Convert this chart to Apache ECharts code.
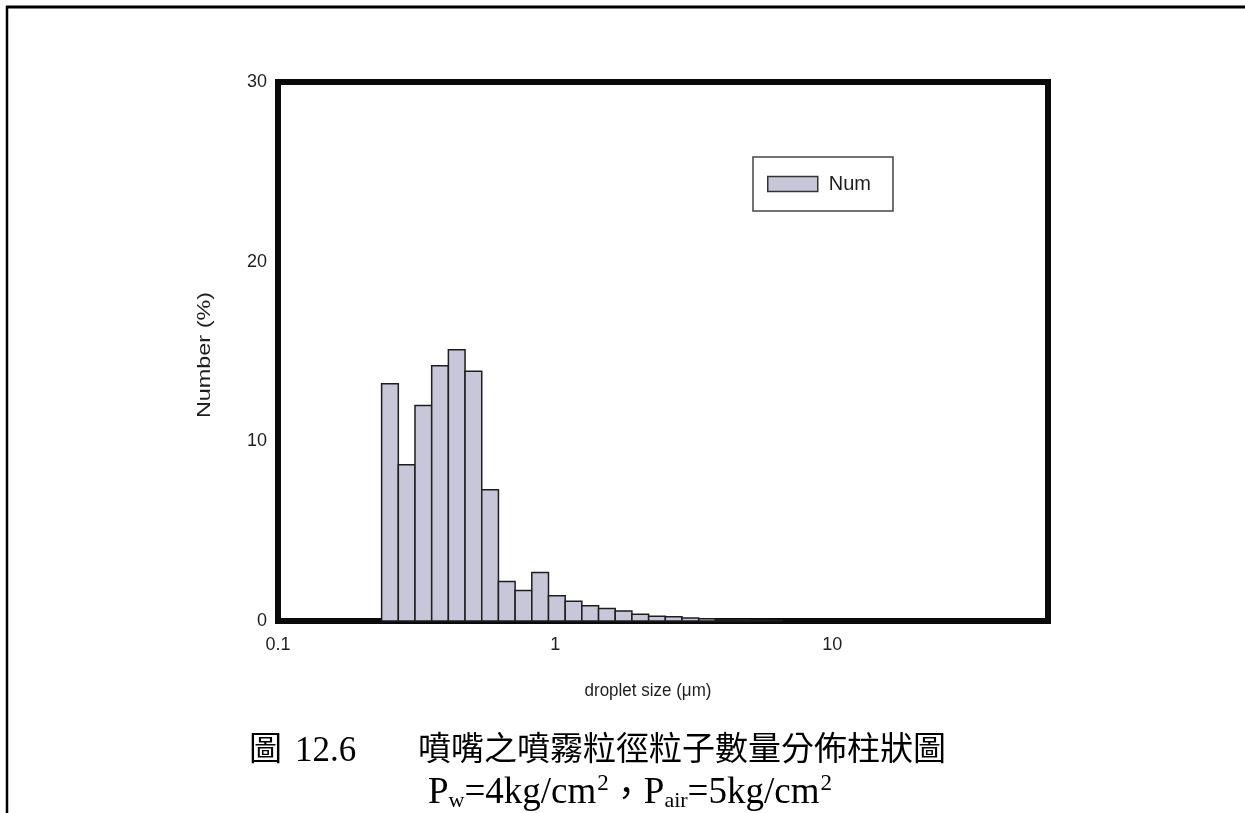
<!DOCTYPE html>
<html>
<head>
<meta charset="utf-8">
<script src="https://cdn.jsdelivr.net/npm/echarts@6/dist/echarts.min.js"></script>
<style>
  html, body { margin: 0; padding: 0; background: #ffffff; }
  #chart { width: 1245px; height: 813px; }
</style>
</head>
<body>
<div id="chart"></div>
<script>
// Droplet size bin edges (µm), log-spaced bins of the size analyser
const binEdges = [0.2365, 0.2717, 0.3121, 0.3585, 0.4118, 0.4730, 0.5434, 0.6242,
                  0.7170, 0.8236, 0.9461, 1.087, 1.248, 1.434, 1.647, 1.892,
                  2.174, 2.497, 2.868, 3.295, 3.785, 4.348, 4.994, 5.737, 6.590];
// Number fraction in each bin (%)
const numPct = [13.2, 8.7, 12.0, 14.2, 15.1, 13.9, 7.3, 2.2,
                1.7, 2.7, 1.4, 1.1, 0.85, 0.7, 0.55, 0.38,
                0.27, 0.24, 0.17, 0.13, 0.09, 0.07, 0.05, 0.04];
// Axis tick labels
const xTickLabels = ['0.1', '1', '10'];
const yTicks = [0, 10, 20, 30];
const seriesName = 'Num';

const rows = numPct.map((v, i) => [binEdges[i], binEdges[i + 1], v]);

const chart = echarts.init(document.getElementById('chart'), null, { renderer: 'canvas' });

const sans = 'Liberation Sans, Arial, sans-serif';
const ink = '#1e1e1e';
const axisText = { color: ink, fontFamily: sans, fontSize: 18 };

chart.setOption({
  backgroundColor: '#ffffff',
  animation: false,
  grid: {
    left: 278, top: 82, right: 197, bottom: 192,
    show: true, borderColor: '#0a0a0a', borderWidth: 6, backgroundColor: 'transparent'
  },
  legend: {
    show: true,
    left: 753, top: 157,
    orient: 'horizontal',
    icon: 'rect',
    itemWidth: 50, itemHeight: 15,
    padding: [17, 22, 17, 14],
    borderColor: '#444', borderWidth: 1.5,
    backgroundColor: '#ffffff',
    itemStyle: { color: '#c7c7d9', borderColor: '#333', borderWidth: 1.5 },
    textStyle: { color: ink, fontFamily: sans, fontSize: 20, padding: [0, 0, 0, 6] },
    data: [seriesName]
  },
  xAxis: {
    type: 'log', logBase: 10, min: 0.1, max: 60,
    axisLine: { show: false },
    axisTick: { show: false },
    minorTick: { show: false },
    splitLine: { show: false },
    axisLabel: Object.assign({}, axisText, {
      margin: 15,
      showMaxLabel: false,
      formatter: function (v) {
        const k = xTickLabels.findIndex(t => Math.abs(Number(t) - v) < 1e-9 * Math.max(1, v));
        return k >= 0 ? xTickLabels[k] : '';
      }
    })
  },
  yAxis: {
    type: 'value', min: yTicks[0], max: yTicks[yTicks.length - 1], interval: 10,
    axisLine: { show: false },
    axisTick: { show: false },
    splitLine: { show: false },
    axisLabel: Object.assign({}, axisText, { margin: 11 })
  },
  series: [{
    name: seriesName,
    type: 'custom',
    data: rows,
    encode: { x: [0, 1], y: 2 },
    itemStyle: { color: '#c7c7d9', borderColor: '#1e1e1e', borderWidth: 1.5 },
    renderItem: function (params, api) {
      const lo = api.value(0), hi = api.value(1), v = api.value(2);
      const pTop = api.coord([lo, v]);
      const pBot = api.coord([hi, 0]);
      return {
        type: 'rect',
        shape: { x: pTop[0], y: pTop[1], width: pBot[0] - pTop[0], height: pBot[1] - pTop[1] },
        style: { fill: '#c7c7d9', stroke: '#1e1e1e', lineWidth: 1.5 }
      };
    },
    z: 1
  }],
  graphic: [
    // page frame lines
    { type: 'line', shape: { x1: 6, y1: 7, x2: 1245, y2: 7 }, style: { stroke: '#000', lineWidth: 3 }, silent: true },
    { type: 'line', shape: { x1: 7, y1: 6, x2: 7, y2: 813 }, style: { stroke: '#000', lineWidth: 2.5 }, silent: true },
    // axis titles
    { type: 'text', x: 205, y: 355, rotation: Math.PI / 2, scaleX: 1.3,
      style: { text: 'Number (%)', fill: ink, font: '18px "Liberation Sans", Arial, sans-serif',
               textAlign: 'center', textVerticalAlign: 'middle' } },
    { type: 'text', x: 648, y: 691, scaleY: 1.1,
      style: { text: 'droplet size (\u03bcm)', fill: ink, font: '17px "Liberation Sans", Arial, sans-serif',
               textAlign: 'center', textVerticalAlign: 'middle' } },
    // figure caption
    { type: 'text', left: 249, top: 731,
      style: { text: '圖', fill: '#000', font: '33px "Noto Sans CJK TC", sans-serif' } },
    { type: 'text', left: 295, top: 734,
      style: { text: '12.6', fill: '#000', font: '35px "Liberation Serif", "Times New Roman", serif' } },
    { type: 'text', left: 418, top: 731,
      style: { text: '噴嘴之噴霧粒徑粒子數量分佈柱狀圖', fill: '#000', font: '33px "Noto Sans CJK TC", sans-serif' } },
    { type: 'text', left: 428, top: 772,
      style: {
        text: '{t|P}{sub|w}{t|=4kg/cm}{sup|2}{c|，}{t|P}{sub|air}{t|=5kg/cm}{sup|2}',
        fill: '#000',
        rich: {
          t: { fontFamily: 'Liberation Serif, Times New Roman, serif', fontSize: 37, lineHeight: 42, fill: '#000' },
          sub: { fontFamily: 'Liberation Serif, Times New Roman, serif', fontSize: 22, lineHeight: 42, verticalAlign: 'bottom', padding: [0, 0, 2, 0], fill: '#000' },
          sup: { fontFamily: 'Liberation Serif, Times New Roman, serif', fontSize: 23, lineHeight: 42, verticalAlign: 'top', padding: [0, 0, 0, 1], fill: '#000' },
          c: { fontFamily: 'Noto Sans CJK TC, sans-serif', fontSize: 35, lineHeight: 42, fill: '#000' }
        }
      }
    }
  ]
});
</script>
</body>
</html>
